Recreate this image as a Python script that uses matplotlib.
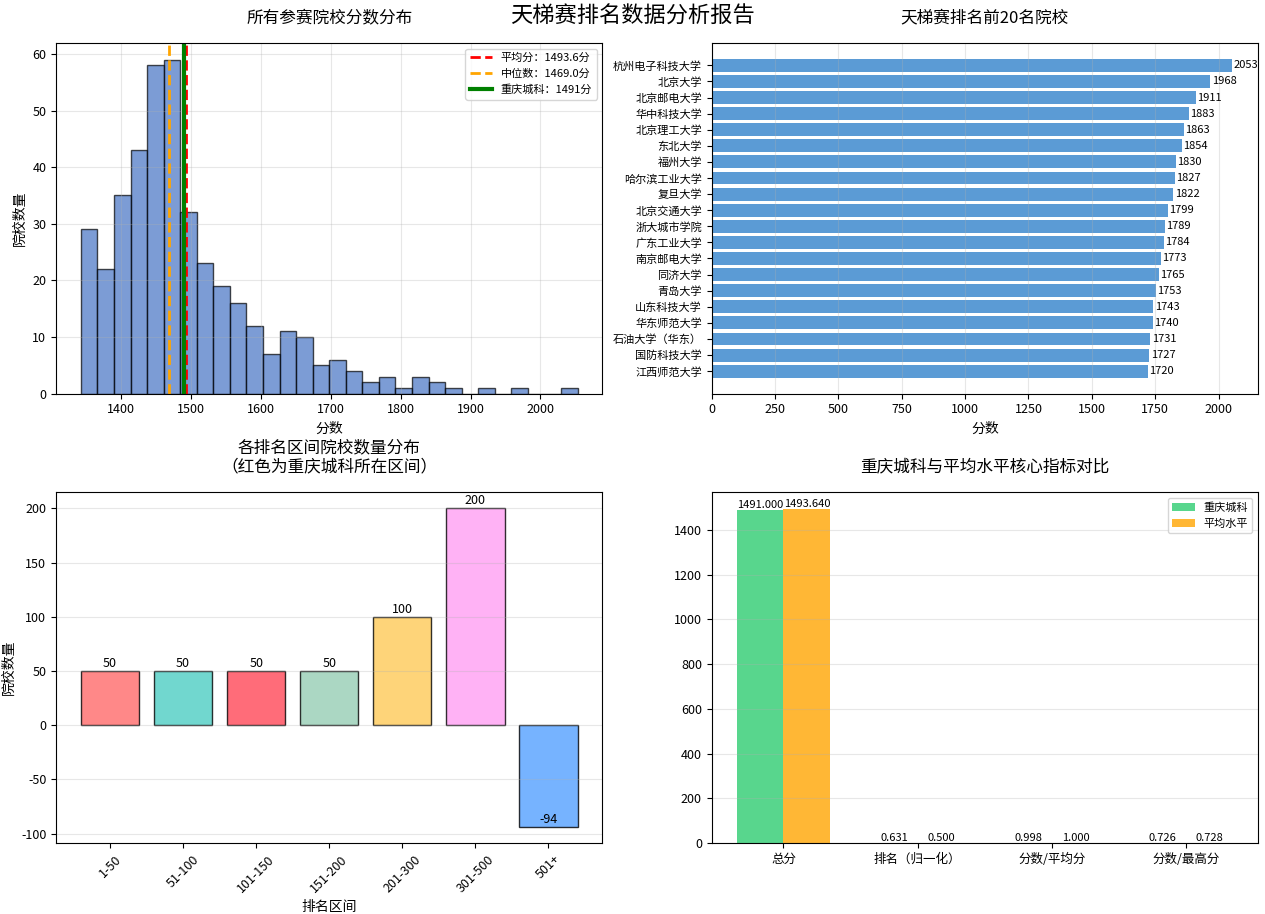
import numpy as np
import matplotlib
matplotlib.use('Agg')
import matplotlib.pyplot as plt

plt.rcParams['font.family'] = ['Noto Sans CJK SC', 'DejaVu Sans']
plt.rcParams['axes.unicode_minus'] = False

# Score histogram (30 bins between min and max score)
score_min = 1343
score_max = 2053
hist_counts = [29, 22, 35, 43, 58, 59, 32, 23, 19, 16, 12, 7, 11, 10, 5,
               6, 4, 2, 3, 1, 3, 2, 1, 0, 1, 0, 1, 0, 0, 1]
mean_score = 1493.6
median_score = 1469.0
cq_score = 1491

# Top 20 schools
top_schools = ['杭州电子科技大学', '北京大学', '北京邮电大学', '华中科技大学', '北京理工大学',
               '东北大学', '福州大学', '哈尔滨工业大学', '复旦大学', '北京交通大学',
               '浙大城市学院', '广东工业大学', '南京邮电大学', '同济大学', '青岛大学',
               '山东科技大学', '华东师范大学', '石油大学（华东）', '国防科技大学', '江西师范大学']
top_scores = [2053, 1968, 1911, 1883, 1863, 1854, 1830, 1827, 1822, 1799,
              1789, 1784, 1773, 1765, 1753, 1743, 1740, 1731, 1727, 1720]

# Rank ranges
rank_ranges = ['1-50', '51-100', '101-150', '151-200', '201-300', '301-500', '501+']
range_counts = [50, 50, 50, 50, 100, 200, -94]
range_colors = ['#FF6B6B', '#4ECDC4', '#FF4757', '#96CEB4', '#FECA57', '#FF9FF3', '#54A0FF']

# Comparison metrics
metrics = ['总分', '排名（归一化）', '分数/平均分', '分数/最高分']
cq_values = [1491.000, 0.631, 0.998, 0.726]
avg_values = [1493.640, 0.500, 1.000, 0.728]

fig, axes = plt.subplots(2, 2, figsize=(12.65, 9.14), dpi=100)
fig.subplots_adjust(left=0.0443, right=0.9945, top=0.953, bottom=0.0777,
                    wspace=0.2, hspace=0.282)
fig.suptitle('天梯赛排名数据分析报告', fontsize=16, y=0.995)

# 1. histogram
ax = axes[0, 0]
edges = np.linspace(score_min, score_max, len(hist_counts) + 1)
centers = (edges[:-1] + edges[1:]) / 2
ax.hist(centers, bins=edges, weights=hist_counts, color='#4472C4', alpha=0.7,
        edgecolor='black')
ax.axvline(mean_score, color='red', linestyle='--', linewidth=2,
           label=f'平均分：{mean_score:.1f}分')
ax.axvline(median_score, color='orange', linestyle='--', linewidth=2,
           label=f'中位数：{median_score:.1f}分')
ax.axvline(cq_score, color='green', linestyle='-', linewidth=3,
           label=f'重庆城科：{cq_score}分')
ax.set_title('所有参赛院校分数分布', fontsize=12, pad=15)
ax.set_xlabel('分数', fontsize=10)
ax.set_ylabel('院校数量', fontsize=10)
ax.legend(fontsize=8, loc='upper right')
ax.grid(True, alpha=0.3)
ax.tick_params(labelsize=9)

# 2. top 20
ax = axes[0, 1]
y = np.arange(len(top_schools))
bars = ax.barh(y, top_scores, color='#5B9BD5')
ax.set_yticks(y)
ax.set_yticklabels(top_schools, fontsize=8)
ax.invert_yaxis()
for bar, s in zip(bars, top_scores):
    ax.text(bar.get_width() + 5, bar.get_y() + bar.get_height() / 2, str(s),
            va='center', fontsize=8)
ax.set_xlim(0, max(top_scores) * 1.05)
ax.set_title('天梯赛排名前20名院校', fontsize=12, pad=15)
ax.set_xlabel('分数', fontsize=10)
ax.grid(True, axis='x', alpha=0.3)
ax.tick_params(axis='x', labelsize=9)

# 3. rank ranges
ax = axes[1, 0]
bars = ax.bar(rank_ranges, range_counts, color=range_colors, alpha=0.8,
              edgecolor='black', width=0.8)
for bar, c in zip(bars, range_counts):
    ax.text(bar.get_x() + bar.get_width() / 2, c + 1, str(c),
            ha='center', va='bottom', fontsize=9)
ax.set_title('各排名区间院校数量分布\n（红色为重庆城科所在区间）', fontsize=12, pad=15)
ax.set_xlabel('排名区间', fontsize=10)
ax.set_ylabel('院校数量', fontsize=10)
ax.grid(True, axis='y', alpha=0.3)
ax.tick_params(labelsize=9)
plt.setp(ax.get_xticklabels(), rotation=45)

# 4. comparison
ax = axes[1, 1]
x = np.arange(len(metrics))
w = 0.35
b1 = ax.bar(x - w / 2, cq_values, w, label='重庆城科', color='#2ECC71', alpha=0.8)
b2 = ax.bar(x + w / 2, avg_values, w, label='平均水平', color='#FFA502', alpha=0.8)
for bars_, vals in ((b1, cq_values), (b2, avg_values)):
    for bar, v in zip(bars_, vals):
        ax.text(bar.get_x() + bar.get_width() / 2, bar.get_height(), f'{v:.3f}',
                ha='center', va='bottom', fontsize=8)
ax.set_xticks(x)
ax.set_xticklabels(metrics, fontsize=9)
ax.set_title('重庆城科与平均水平核心指标对比', fontsize=12, pad=15)
ax.legend(fontsize=8, loc='upper right')
ax.grid(True, axis='y', alpha=0.3)
ax.tick_params(labelsize=9)

plt.savefig('out.png', dpi=100)
